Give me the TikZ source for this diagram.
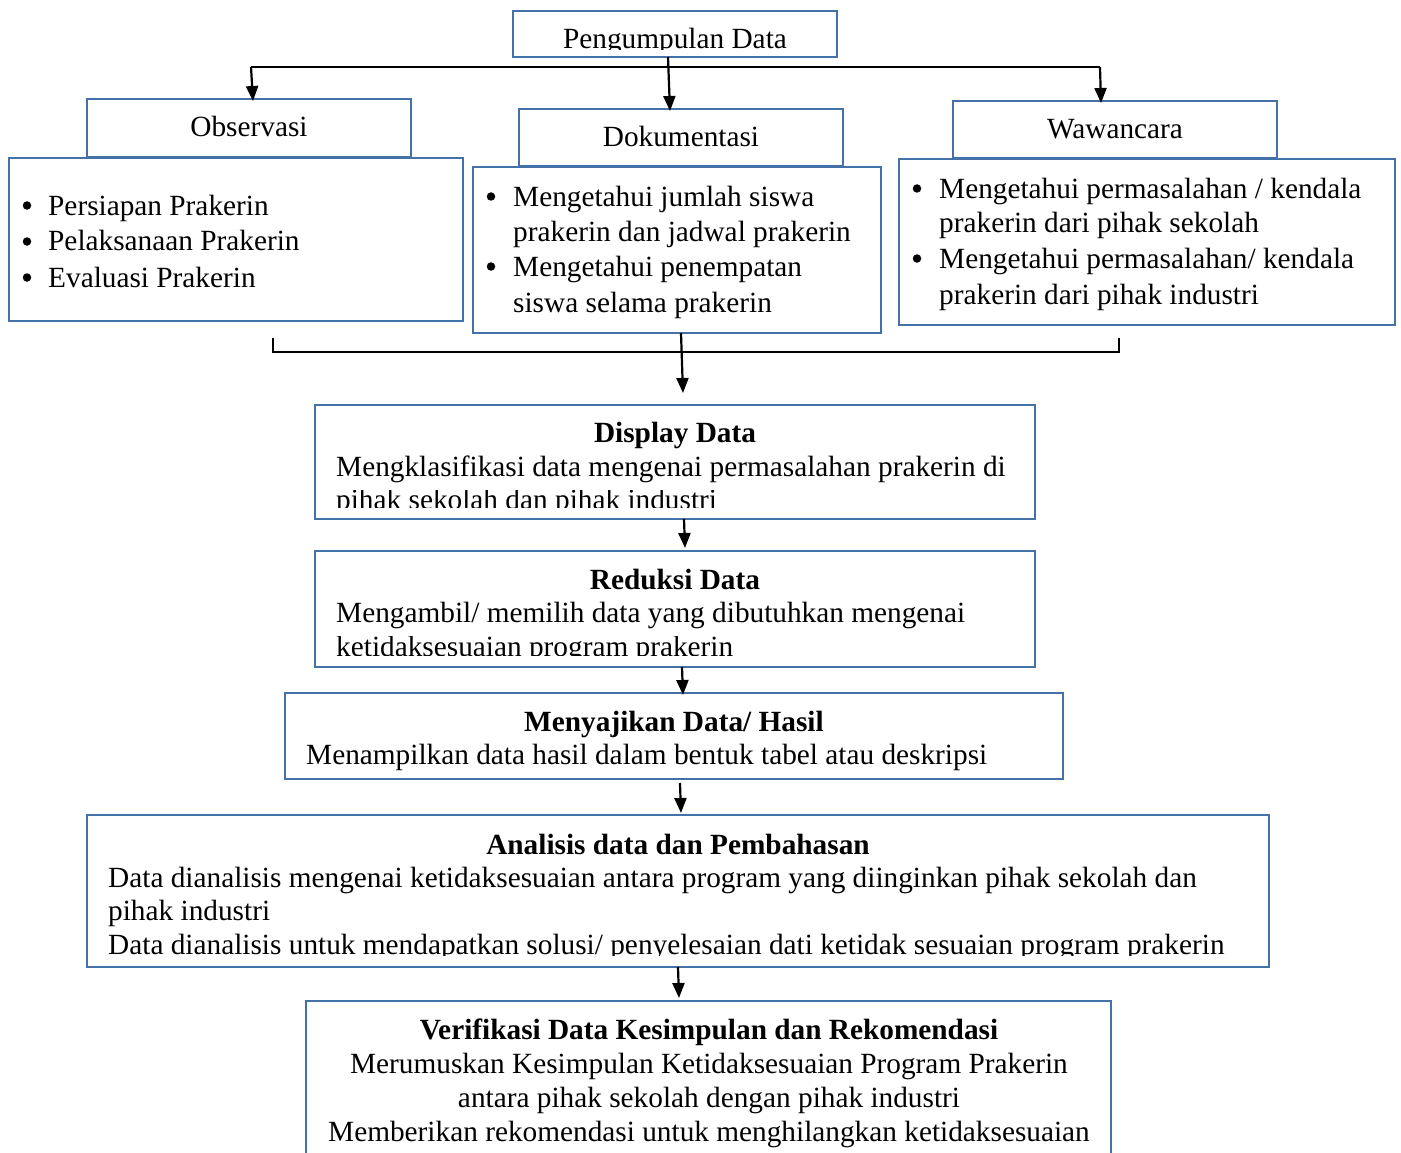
\documentclass[tikz,border=0pt]{standalone}
\usepackage{fontspec}
\setmainfont{Liberation Serif}
\usetikzlibrary{arrows.meta}
\definecolor{boxblue}{RGB}{68,114,168}
\tikzset{
  box/.style={draw=boxblue, line width=2.9pt, inner sep=0pt, fill=none},
  txt/.style={inner sep=0pt, font=\fontsize{29.3}{34}\selectfont},
  ttl/.style={txt, font=\fontsize{29.3}{34}\selectfont\bfseries, anchor=base},
  lft/.style={txt, anchor=base west},
  ctr/.style={txt, anchor=base},
  bul/.style={circle, fill=black, inner sep=0pt, minimum size=8.5pt},
  conn/.style={line width=2.2pt, -{Triangle[length=15pt,width=12pt]}},
  thinline/.style={line width=1.4pt}
}
\begin{document}
\begin{tikzpicture}[x=1pt,y=-1pt]
\path[use as bounding box, fill=white] (0,0) rectangle (1401,1153);

% ---------- boxes ----------
\node[box, minimum width=324pt, minimum height=46pt] (pd) at (675,34) {};
\node[box, minimum width=324pt, minimum height=58pt] (obs) at (249,128) {};
\node[box, minimum width=454pt, minimum height=163pt] (obsl) at (236,239.5) {};
\node[box, minimum width=324pt, minimum height=57pt] (dok) at (681,137.5) {};
\node[box, minimum width=408pt, minimum height=166pt] (dokl) at (677,250) {};
\node[box, minimum width=324pt, minimum height=57pt] (waw) at (1115,129.5) {};
\node[box, minimum width=496pt, minimum height=166pt] (wawl) at (1147,242) {};
\node[box, minimum width=720pt, minimum height=114pt] (disp) at (675,462) {};
\node[box, minimum width=720pt, minimum height=116pt] (red) at (675,609) {};
\node[box, minimum width=778pt, minimum height=86pt] (saji) at (674,736) {};
\node[box, minimum width=1182pt, minimum height=152pt] (anal) at (678,891) {};
\node[box, minimum width=805pt, minimum height=170pt] (ver) at (708.5,1086) {};

% ---------- connectors ----------
\coordinate (tL) at (251,67);
\coordinate (tR) at (1100,67);
\coordinate (aObs) at (253,101);
\coordinate (sPd) at (668,57);
\coordinate (aDok) at (670,111);
\coordinate (aWaw) at (1101,103);
\draw[thinline] (tL) -- (tR);
\draw[conn] (tL) -- (aObs);
\draw[conn] (sPd) -- (aDok);
\draw[conn] (tR) -- (aWaw);

\coordinate (bL) at (273,338);
\coordinate (bR) at (1119,338);
\draw[thinline] (bL) -- (273,352) -- (1119,352) -- (bR);
\coordinate (sDok) at (681,333);
\coordinate (aDisp) at (683,393);
\draw[conn] (sDok) -- (aDisp);

\coordinate (s1) at (684,519);  \coordinate (e1) at (685,548);
\coordinate (s2) at (682,667);  \coordinate (e2) at (683,695);
\coordinate (s3) at (680,783);  \coordinate (e3) at (681,813);
\coordinate (s4) at (678,967);  \coordinate (e4) at (679,998);
\draw[conn] (s1) -- (e1);
\draw[conn] (s2) -- (e2);
\draw[conn] (s3) -- (e3);
\draw[conn] (s4) -- (e4);

% ---------- texts ----------
\begin{scope}
\clip (515,13) rectangle (835,50);
\node[ctr] (tpd) at (675,49) {Pengumpulan Data};
\end{scope}
\node[ctr] (tobs) at (249,137) {Observasi};
\node[ctr] (tdok) at (681,147) {Dokumentasi};
\node[ctr] (twaw) at (1115,139) {Wawancara};

\node[bul] (ob1) at (27,205.5) {};
\node[bul] (ob2) at (27,241.5) {};
\node[bul] (ob3) at (27,277.5) {};
\node[lft] (o1) at (48,215) {Persiapan Prakerin};
\node[lft] (o2) at (48,251) {Pelaksanaan Prakerin};
\node[lft] (o3) at (48,287) {Evaluasi Prakerin};

\node[bul] (db1) at (491,196.5) {};
\node[bul] (db2) at (491,266.5) {};
\node[lft] (d1) at (513,206) {Mengetahui jumlah siswa};
\node[lft] (d2) at (513,241) {prakerin dan jadwal prakerin};
\node[lft] (d3) at (513,276) {Mengetahui penempatan};
\node[lft] (d4) at (513,312) {siswa selama prakerin};

\node[bul] (wb1) at (917,188.5) {};
\node[bul] (wb2) at (917,258.5) {};
\node[lft] (w1) at (939,198) {Mengetahui permasalahan / kendala};
\node[lft] (w2) at (939,233) {prakerin dari pihak sekolah};
\node[lft] (w3) at (939,268) {Mengetahui permasalahan/ kendala};
\node[lft] (w4) at (939,304) {prakerin dari pihak industri};

\node[ttl] (tdisp) at (675,442) {Display Data};
\node[lft] (dp1) at (336,476) {Mengklasifikasi data mengenai permasalahan prakerin di};
\begin{scope}
\clip (318,490) rectangle (1032,507);
\node[lft] (dp2) at (336,509) {pihak sekolah dan pihak industri};
\end{scope}

\node[ttl] (tred) at (675,589) {Reduksi Data};
\node[lft] (rd1) at (336,622) {Mengambil/ memilih data yang dibutuhkan mengenai};
\begin{scope}
\clip (318,636) rectangle (1032,655);
\node[lft] (rd2) at (336,656) {ketidaksesuaian program prakerin};
\end{scope}

\node[ttl] (tsaji) at (674,731) {Menyajikan Data/ Hasil};
\node[lft] (sj1) at (306,764) {Menampilkan data hasil dalam bentuk tabel atau deskripsi};

\node[ttl] (tanal) at (678,854) {Analisis data dan Pembahasan};
\node[lft] (an1) at (108,887) {Data dianalisis mengenai ketidaksesuaian antara program yang diinginkan pihak sekolah dan};
\node[lft] (an2) at (108,920) {pihak industri};
\begin{scope}
\clip (90,930) rectangle (1266,955);
\node[lft] (an3) at (108,954) {Data dianalisis untuk mendapatkan solusi/ penyelesaian dati ketidak sesuaian program prakerin};
\end{scope}

\node[ttl] (tver) at (709,1039) {Verifikasi Data Kesimpulan dan Rekomendasi};
\node[ctr] (vr1) at (709,1073) {Merumuskan Kesimpulan Ketidaksesuaian Program Prakerin};
\node[ctr] (vr2) at (709,1107) {antara pihak sekolah dengan pihak industri};
\node[ctr] (vr3) at (709,1141) {Memberikan rekomendasi untuk menghilangkan ketidaksesuaian};
\end{tikzpicture}
\end{document}
